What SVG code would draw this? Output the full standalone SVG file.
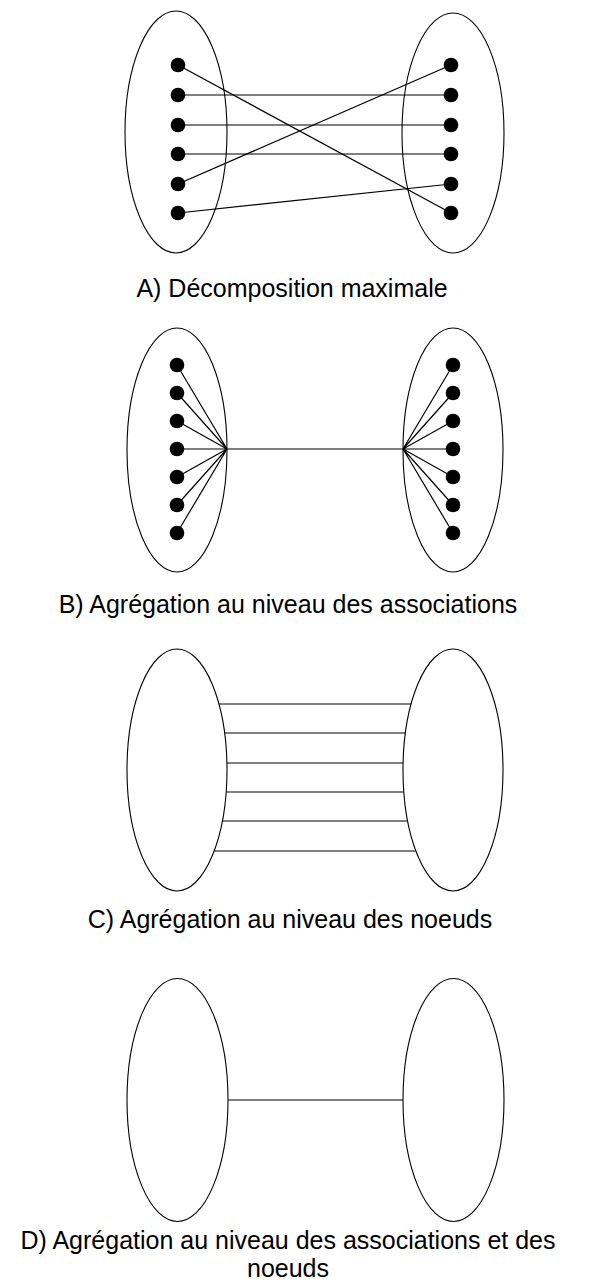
<svg xmlns="http://www.w3.org/2000/svg" width="590" height="1282" viewBox="0 0 590 1282">
<style>
.set{fill:none;stroke:#000;stroke-width:1.1}
.dot{fill:#000}
.edge{stroke:#000;stroke-width:1.2;fill:none}
.cap{font-family:"Liberation Sans",Arial,sans-serif;font-size:25px;fill:#000;text-anchor:middle}
</style>
<rect width="590" height="1282" fill="#fff"/>

<!-- Panel A -->
<g id="A-left">
<ellipse class="set" cx="176" cy="132" rx="51" ry="121"/>
<circle class="dot" cx="178" cy="65" r="7.3"/>
<circle class="dot" cx="178" cy="95" r="7.3"/>
<circle class="dot" cx="178" cy="125" r="7.3"/>
<circle class="dot" cx="178" cy="154" r="7.3"/>
<circle class="dot" cx="178" cy="184" r="7.3"/>
<circle class="dot" cx="178" cy="213" r="7.3"/>
</g>
<g id="A-right">
<ellipse class="set" cx="453" cy="133" rx="51" ry="120"/>
<circle class="dot" cx="451" cy="65" r="7.3"/>
<circle class="dot" cx="451" cy="95" r="7.3"/>
<circle class="dot" cx="451" cy="125" r="7.3"/>
<circle class="dot" cx="451" cy="154" r="7.3"/>
<circle class="dot" cx="451" cy="184" r="7.3"/>
<circle class="dot" cx="451" cy="213" r="7.3"/>
</g>
<g id="A-connectors">
<line class="edge" x1="178" y1="65" x2="451" y2="213"/>
<line class="edge" x1="178" y1="95" x2="451" y2="95"/>
<line class="edge" x1="178" y1="125" x2="451" y2="125"/>
<line class="edge" x1="178" y1="154" x2="451" y2="154"/>
<line class="edge" x1="178" y1="184" x2="451" y2="65"/>
<line class="edge" x1="178" y1="213" x2="451" y2="184"/>
</g>
<text class="cap" x="292" y="297">A) Décomposition maximale</text>

<!-- Panel B -->
<g id="B-left">
<ellipse class="set" cx="177" cy="450" rx="50" ry="122"/>
<circle class="dot" cx="177" cy="365" r="7.3"/>
<circle class="dot" cx="177" cy="393" r="7.3"/>
<circle class="dot" cx="177" cy="421" r="7.3"/>
<circle class="dot" cx="177" cy="449" r="7.3"/>
<circle class="dot" cx="177" cy="477" r="7.3"/>
<circle class="dot" cx="177" cy="505" r="7.3"/>
<circle class="dot" cx="177" cy="533" r="7.3"/>
</g>
<g id="B-right">
<ellipse class="set" cx="453" cy="450" rx="50" ry="122"/>
<circle class="dot" cx="453" cy="365" r="7.3"/>
<circle class="dot" cx="453" cy="393" r="7.3"/>
<circle class="dot" cx="453" cy="421" r="7.3"/>
<circle class="dot" cx="453" cy="449" r="7.3"/>
<circle class="dot" cx="453" cy="477" r="7.3"/>
<circle class="dot" cx="453" cy="505" r="7.3"/>
<circle class="dot" cx="453" cy="533" r="7.3"/>
</g>
<g id="B-connectors">
<path class="edge" d="M177 365L227 449M177 393L227 449M177 421L227 449M177 449L227 449M177 477L227 449M177 505L227 449M177 533L227 449"/>
<path class="edge" d="M453 365L403 449M453 393L403 449M453 421L403 449M453 449L403 449M453 477L403 449M453 505L403 449M453 533L403 449"/>
<line class="edge" x1="227" y1="449" x2="403" y2="449"/>
</g>
<text class="cap" x="288" y="613">B) Agrégation au niveau des associations</text>

<!-- Panel C -->
<g id="C-left">
<ellipse class="set" cx="177" cy="770" rx="50" ry="121"/>
</g>
<g id="C-right">
<ellipse class="set" cx="453" cy="770" rx="50" ry="121"/>
</g>
<g id="C-connectors">
<line class="edge" x1="218.9" y1="704" x2="411.1" y2="704"/>
<line class="edge" x1="224.6" y1="733" x2="405.4" y2="733"/>
<line class="edge" x1="226.9" y1="763" x2="403.1" y2="763"/>
<line class="edge" x1="226.2" y1="792" x2="403.8" y2="792"/>
<line class="edge" x1="222.3" y1="821" x2="407.7" y2="821"/>
<line class="edge" x1="214.2" y1="851" x2="415.8" y2="851"/>
</g>
<text class="cap" x="290" y="928">C) Agrégation au niveau des noeuds</text>

<!-- Panel D -->
<g id="D-left">
<ellipse class="set" cx="177.5" cy="1100" rx="50.5" ry="121.5"/>
</g>
<g id="D-right">
<ellipse class="set" cx="453.5" cy="1100" rx="50.5" ry="121.5"/>
</g>
<g id="D-connectors">
<line class="edge" x1="228" y1="1100" x2="403" y2="1100"/>
</g>
<text class="cap" x="288" y="1249">D) Agrégation au niveau des associations et des</text>
<text class="cap" x="288" y="1277">noeuds</text>
</svg>
